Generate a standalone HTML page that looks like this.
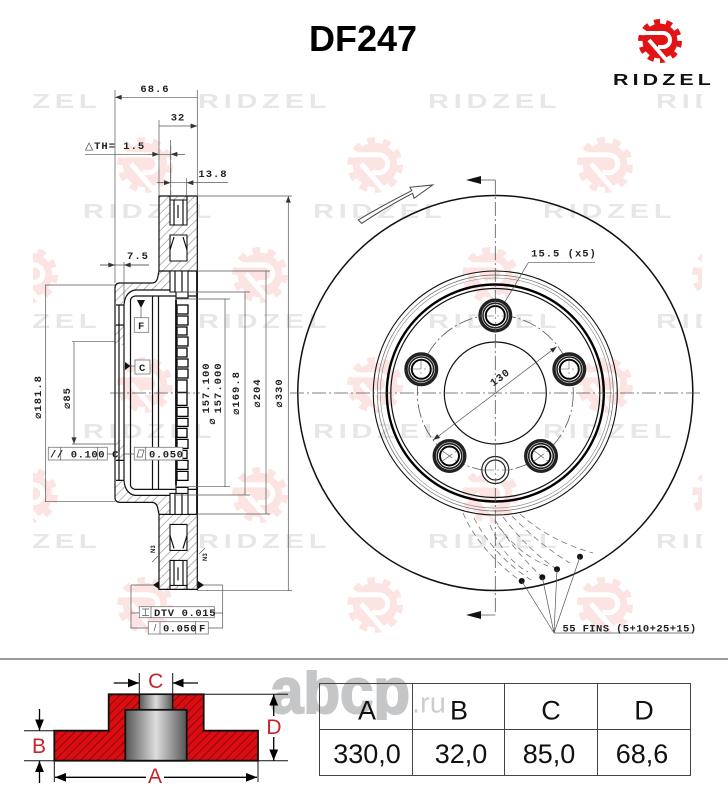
<!DOCTYPE html>
<html><head><meta charset="utf-8"><style>
html,body{margin:0;padding:0;background:#fff}
svg{display:block}
.d{font-family:"Liberation Mono","DejaVu Sans",monospace;font-weight:bold;font-size:10.5px;letter-spacing:1px;fill:#222}
.w{font-family:"Liberation Sans",sans-serif;font-weight:bold;font-size:20px;fill:#e7e7e7;letter-spacing:3.3px}
.t{font-family:"Liberation Sans",sans-serif;font-size:27px;fill:#111;text-anchor:middle}
.r{font-family:"Liberation Sans",sans-serif;font-size:21px;fill:#c8232c;text-anchor:middle}
.l{stroke:#555;stroke-width:.7;fill:none}
.k{stroke:#111;stroke-width:1.2;fill:none}
.kk{stroke:#111;stroke-width:1.8;fill:none}
.da{stroke:#555;stroke-width:.8;fill:none;stroke-dasharray:14 3 2 3}
.fin{stroke:#777;stroke-width:.8;fill:none;stroke-dasharray:6 4}
.b{fill:#fff;stroke:#777;stroke-width:.8}
</style></head><body>
<svg width="728" height="800" viewBox="0 0 728 800" xmlns="http://www.w3.org/2000/svg">
<defs>
<clipPath id="wm"><rect x="33" y="80" width="669" height="570"/></clipPath>
<clipPath id="ab"><rect x="260" y="670" width="200" height="50"/></clipPath>
<marker id="a" viewBox="0 0 8 6" refX="8" refY="3" markerWidth="7" markerHeight="5" markerUnits="userSpaceOnUse" orient="auto-start-reverse"><path d="M0 0L8 3L0 6Z" fill="#333"/></marker>
<marker id="ab2" viewBox="0 0 10 8" refX="10" refY="4" markerWidth="11" markerHeight="9" markerUnits="userSpaceOnUse" orient="auto-start-reverse"><path d="M0 0L10 4L0 8Z" fill="#000"/></marker>
<pattern id="h" width="6" height="6" patternUnits="userSpaceOnUse" patternTransform="rotate(-45)"><rect width="6" height="6" fill="#fff"/><rect width="6" height=".7" fill="#999"/></pattern>
<pattern id="rh" width="6" height="6" patternUnits="userSpaceOnUse" patternTransform="rotate(-45)"><rect width="6" height="6" fill="#dc0d12"/><rect width="6" height=".9" fill="#7c0a0a"/></pattern>
<linearGradient id="g1" x1="0" x2="1" y1="0" y2="0"><stop offset="0" stop-color="#555"/><stop offset=".5" stop-color="#ddd"/><stop offset="1" stop-color="#555"/></linearGradient>
<g id="gear">
<circle r="17.5" fill="currentColor"/>
<circle r="19.5" fill="none" stroke="currentColor" stroke-width="5" stroke-dasharray="6.1 6.15"/>
<path d="M-24 -8H3A7 7 0 0 1 3 6H-2M-11 -1L8 21" fill="none" stroke="#fff" stroke-width="4"/>
</g>
<g id="half">
<path class="k" d="M159 271V196H197.3V393M159 271L158 276Q157 283 152 283H120Q115 283 115 288V393M124 393V305Q125 292 135 290H175"/>
<path class="k" d="M116 305H124M116 325H124M119 393V305M130.5 393V300Q131 297 135 296H176M152.5 393V296M158.5 393V296M176 393V271M188 296H197M159 271H197"/>
<path d="M170 200h17v25h-17zM170 235h17v26h-17zM170 271h18v21h-18z" fill="#fff" stroke="#111" stroke-width="1.1"/>
<path class="k" d="M170 196V200M187 196V200M174 200V225M183 200V225M178 205V218M174 237L170 250M183 237L187 250M175 271V292M182 271V292M188 292V298L176 298"/>
<path d="M177 305h11v9h-11zM177 316h11v9h-11zM177 327h10v8h-10zM177 337h11v9h-11zM177 348h10v9h-10zM177 359h11v8h-11zM177 369h11v9h-11zM177 380h10v13h-10z" fill="#fff" stroke="#000" stroke-width="1.3"/>
<path class="kk" d="M197 271V393M176 300V393"/>
</g>
</defs>

<!-- watermarks -->
<g clip-path="url(#wm)">
<g style="color:#fbe4e1">
<use href="#gear" transform="translate(145,165) scale(1.27)"/><use href="#gear" transform="translate(375,165) scale(1.27)"/><use href="#gear" transform="translate(605,165) scale(1.27)"/>
<use href="#gear" transform="translate(30,275) scale(1.27)"/><use href="#gear" transform="translate(260,275) scale(1.27)"/><use href="#gear" transform="translate(490,275) scale(1.27)"/><use href="#gear" transform="translate(720,275) scale(1.27)"/>
<use href="#gear" transform="translate(145,385) scale(1.27)"/><use href="#gear" transform="translate(375,385) scale(1.27)"/><use href="#gear" transform="translate(605,385) scale(1.27)"/>
<use href="#gear" transform="translate(30,495) scale(1.27)"/><use href="#gear" transform="translate(260,495) scale(1.27)"/><use href="#gear" transform="translate(490,495) scale(1.27)"/><use href="#gear" transform="translate(720,495) scale(1.27)"/>
<use href="#gear" transform="translate(145,605) scale(1.27)"/><use href="#gear" transform="translate(375,605) scale(1.27)"/><use href="#gear" transform="translate(605,605) scale(1.27)"/>
</g>
<g class="w">
<text transform="translate(-32,108) scale(1.45,1)">RIDZEL</text><text transform="translate(198,108) scale(1.45,1)">RIDZEL</text><text transform="translate(428,108) scale(1.45,1)">RIDZEL</text><text transform="translate(656,108) scale(1.45,1)">RIDZEL</text>
<text transform="translate(83,218) scale(1.45,1)">RIDZEL</text><text transform="translate(313,218) scale(1.45,1)">RIDZEL</text><text transform="translate(543,218) scale(1.45,1)">RIDZEL</text>
<text transform="translate(-32,328) scale(1.45,1)">RIDZEL</text><text transform="translate(198,328) scale(1.45,1)">RIDZEL</text><text transform="translate(428,328) scale(1.45,1)">RIDZEL</text><text transform="translate(656,328) scale(1.45,1)">RIDZEL</text>
<text transform="translate(83,438) scale(1.45,1)">RIDZEL</text><text transform="translate(313,438) scale(1.45,1)">RIDZEL</text><text transform="translate(543,438) scale(1.45,1)">RIDZEL</text>
<text transform="translate(-32,548) scale(1.45,1)">RIDZEL</text><text transform="translate(198,548) scale(1.45,1)">RIDZEL</text><text transform="translate(428,548) scale(1.45,1)">RIDZEL</text><text transform="translate(656,548) scale(1.45,1)">RIDZEL</text>
</g>
</g>

<!-- header -->
<text x="363" y="51" text-anchor="middle" style="font-family:'Liberation Sans',sans-serif;font-weight:bold;font-size:36px" fill="#000">DF247</text>
<use href="#gear" transform="translate(660,41)" style="color:#e01414"/>
<text transform="translate(613,85) scale(1.38,1)" style="font-family:'Liberation Sans',sans-serif;font-weight:bold;font-size:15.5px;letter-spacing:3px" fill="#111">RIDZEL</text>

<!-- side view -->
<path d="M159 196H197V271H172L175 290H135Q125 292 124 305H115V288Q115 283 120 283H152Q157 283 158 276L159 271Z" fill="url(#h)"/>
<path d="M115 325H124V345H115Z" fill="url(#h)"/>
<path d="M159 589.4H197V514.4H172L175 495.4H135Q125 493.4 124 480.4H115V497.4Q115 502.4 120 502.4H152Q157 502.4 158 509.4L159 514.4Z" fill="url(#h)"/>
<path d="M115 440.4H124V460.4H115Z" fill="url(#h)"/>
<use href="#half"/>
<use href="#half" transform="translate(0,785.4) scale(1,-1)"/>
<path class="da" d="M110 393H200M170.7 146V196"/>
<!-- dims -->
<g class="l">
<path d="M115 90V283M197.3 90V196M159 120V196M170.7 140V196M186.7 178V196"/>
<path d="M115 97.3H197.3M159 126H197.3" marker-start="url(#a)" marker-end="url(#a)"/>
<path d="M85 154.3H185"/>
<path d="M148 154.3H159" marker-end="url(#a)"/><path d="M185 154.3H170.7" marker-end="url(#a)"/>
<path d="M157 182.7H228"/><path d="M157 182.7H170.7" marker-end="url(#a)"/><path d="M228 182.7H186.7" marker-end="url(#a)"/>
<path d="M100 265H149"/><path d="M100 265H115" marker-end="url(#a)"/><path d="M149 265H124" marker-end="url(#a)"/><path d="M124 262V300"/>
<path d="M197 196H292M197 590.7H292M197 271H270M197 514H270M176 292H250M176 495H250M176 299H230M176 486.7H230"/>
<path d="M288.3 196V590.7M266 271V514M245 291.7V495M225 299V486.7M45.7 285V501.7M74 341.7V444" marker-start="url(#a)" marker-end="url(#a)"/>
<path d="M45 285H115M45 501.7H115M72 341.7H115M72 444H115"/>
</g>
<g class="d">
<text x="155" y="92" text-anchor="middle">68.6</text>
<text x="178" y="120.5" text-anchor="middle">32</text>
<text x="85" y="149">△TH= 1.5</text>
<text x="213" y="177" text-anchor="middle">13.8</text>
<text x="138" y="259" text-anchor="middle">7.5</text>
<text transform="translate(282,393) rotate(-90)" text-anchor="middle">⌀330</text>
<text transform="translate(260,393) rotate(-90)" text-anchor="middle">⌀204</text>
<text transform="translate(239,393) rotate(-90)" text-anchor="middle">⌀169.8</text>
<text transform="translate(209,388) rotate(-90)" text-anchor="middle">157.100</text>
<text transform="translate(221,388) rotate(-90)" text-anchor="middle">157.000</text>
<text transform="translate(215,421) rotate(-90)" text-anchor="middle">⌀</text>
<text transform="translate(41,397) rotate(-90)" text-anchor="middle">⌀181.8</text>
<text transform="translate(70,398) rotate(-90)" text-anchor="middle">⌀85</text>
</g>
<g>
<path d="M137 300H145L141 308Z" fill="#111"/><path class="l" d="M141 308V318"/>
<rect class="b" x="134.3" y="317.7" width="14.4" height="14.6"/><text class="d" x="138" y="329">F</text>
<path d="M130.5 366L125 362V370Z" fill="#111"/><path class="l" d="M130 366H135"/>
<rect class="b" x="135" y="360" width="15" height="14"/><text class="d" x="139" y="371">C</text>
<rect class="b" x="48.3" y="447.3" width="59" height="12.7"/><path class="l" d="M60.7 447.3V460M97.7 447.3V460M107 454H115"/>
<text class="d" x="50" y="457.5" style="letter-spacing:.6px">// 0.100 C</text>
<rect class="b" x="134.3" y="447.3" width="48.4" height="12.7"/><path class="l" d="M145.7 447.3V460M124 454H134M137 457L139 450H144L142 457Z"/>
<text class="d" x="149" y="457.5" style="letter-spacing:.6px">0.050</text>
<path class="l" d="M131 585V628H148.3M222.7 585V628H208.3M131 585H156M222.7 585H201M131 613H139.3M214.3 613H222.7"/>
<path d="M153 585L159 581V589ZM204 585L198 581V589Z" fill="#111"/>
<rect class="b" x="139.3" y="606.7" width="75" height="11"/><path class="l" d="M151 606.7V617.7M142 609H149M142 615.5H149M145.5 609V615.5"/>
<text class="d" x="154" y="616" style="letter-spacing:.6px">DTV 0.015</text>
<rect class="b" x="148.3" y="621.7" width="60" height="12.3"/><path class="l" d="M160 621.7V634M195.7 621.7V634M154 631L156 624"/>
<text class="d" x="163" y="631.5" style="letter-spacing:.5px">0.050</text><text class="d" x="199" y="631.5">F</text>
<text transform="translate(155,553) rotate(-90)" style="font-family:'Liberation Sans',sans-serif;font-weight:bold;font-size:6px" fill="#222">N3</text>
<text transform="translate(207,561) rotate(-90)" style="font-family:'Liberation Sans',sans-serif;font-weight:bold;font-size:6px" fill="#222">N3</text>
<path class="l" d="M152 562L158 556M205 548L199 554"/>
</g>

<!-- front view -->
<circle cx="495.3" cy="393" r="197.5" fill="none" stroke="#111" stroke-width="1.5"/>
<circle cx="495.3" cy="393" r="122" fill="none" stroke="#111" stroke-width="1.1"/>
<circle cx="495.3" cy="393" r="118" fill="none" stroke="#666" stroke-width=".7"/>
<circle cx="495.3" cy="393" r="115" fill="none" stroke="#888" stroke-width=".6"/>
<circle cx="495.3" cy="393" r="108.5" fill="none" stroke="#000" stroke-width="2.4"/>
<circle cx="495.3" cy="393" r="104.5" fill="none" stroke="#111" stroke-width="1.2"/>
<circle cx="495.3" cy="393" r="51" fill="none" stroke="#111" stroke-width="1.2"/>
<circle cx="495.3" cy="393" r="78" class="da"/>
<path class="da" d="M495.3 180V615M290 393H702"/>
<path class="l" d="M495.3 180H478M495.3 615H478"/>
<path d="M466 180L481 176V184ZM466 615L481 611V619Z" fill="#111"/>
<path d="M358.3 220Q385 204 411.7 190.7L410 187.3L432.7 185L414 198.3L412.7 193.3Q388 206 361.7 223.3Z" fill="#fff" stroke="#444" stroke-width="1"/>
<g fill="#fff" stroke="#222">
<circle cx="495.3" cy="315.5" r="15.3" stroke-width="3.4"/><circle cx="495.3" cy="315.5" r="12.3" stroke-width="1.6"/><circle cx="495.3" cy="315.5" r="9.5" stroke="#000" stroke-width="1.9"/>
<circle cx="569.3" cy="369.3" r="15.3" stroke-width="3.4"/><circle cx="569.3" cy="369.3" r="12.3" stroke-width="1.6"/><circle cx="569.3" cy="369.3" r="9.5" stroke="#000" stroke-width="1.9"/>
<circle cx="421.3" cy="369.3" r="15.3" stroke-width="3.4"/><circle cx="421.3" cy="369.3" r="12.3" stroke-width="1.6"/><circle cx="421.3" cy="369.3" r="9.5" stroke="#000" stroke-width="1.9"/>
<circle cx="541" cy="456" r="15.3" stroke-width="3.4"/><circle cx="541" cy="456" r="12.3" stroke-width="1.6"/><circle cx="541" cy="456" r="9.5" stroke="#000" stroke-width="1.9"/>
<circle cx="449.5" cy="456" r="15.3" stroke-width="3.4"/><circle cx="449.5" cy="456" r="12.3" stroke-width="1.6"/><circle cx="449.5" cy="456" r="9.5" stroke="#000" stroke-width="1.9"/>
<circle cx="495.3" cy="470" r="13.5" stroke-width="1.2"/><circle cx="495.3" cy="470" r="10" stroke-width="1.2"/>
</g>
<path class="da" d="M495.3 300V332M480 316H510M555 369H584M569 355V384M407 369H436M421 355V384M441 450L458 462M533 462L549 450M441 462L458 450M533 450L549 462M480 470H510M495.3 456V484" style="stroke-width:.6"/>
<path class="l" d="M556.7 346.7L433.3 440" marker-start="url(#a)" marker-end="url(#a)"/>
<path class="l" d="M595 262.7H528.3L505 301.7"/>
<text class="d" x="564" y="256.7" text-anchor="middle">15.5 (x5)</text>
<text class="d" transform="translate(502,380) rotate(-37)" text-anchor="middle">130</text>
<path class="fin" d="M463 513Q480 552 522 582M474 518Q493 555 531 580M495 520Q515 552 542 577M503 517Q530 552 558 570M512 516Q540 545 570 563M520 514Q550 541 593 553M490 525Q505 560 528 572M498 526Q520 555 548 566"/>
<g fill="#111"><circle cx="521.7" cy="581" r="3"/><circle cx="542.3" cy="577.3" r="3"/><circle cx="557" cy="569.3" r="3"/><circle cx="580" cy="556.7" r="3"/></g>
<path class="l" d="M521.7 581L554 633M542.3 577.3L554 633M557 569.3L554 633M580 556.7L554 633M554 633H692"/>
<text class="d" x="562.5" y="631.5" style="letter-spacing:.4px">55 FINS (5+10+25+15)</text>

<!-- rule -->
<path d="M0 659H728" stroke="#333" stroke-width="1"/>

<!-- abcp -->
<g clip-path="url(#ab)">
<text x="270" y="713" textLength="140" lengthAdjust="spacingAndGlyphs" stroke="#c4c6c8" stroke-width="2" style="font-family:'Liberation Sans',sans-serif;font-weight:bold;font-size:64px" fill="#c4c6c8">abcp</text>
</g>
<text x="412" y="712.5" style="font-family:'Liberation Sans',sans-serif;font-size:29px" fill="#cbcdcf">.ru</text>

<!-- section diagram -->
<path d="M54.3 730.7H108.7V694.3H203.7V730.7H258V760.7H54.3Z" fill="url(#rh)" stroke="#111" stroke-width="1.8"/>
<rect x="139.3" y="694.3" width="33.4" height="15.5" fill="url(#g1)" stroke="#111" stroke-width="1.5"/>
<rect x="125.3" y="709.8" width="61.4" height="50.9" fill="url(#g1)" stroke="#111" stroke-width="1.8"/>
<g stroke="#111" stroke-width="1" fill="none">
<path d="M24 730.7H54M24 760.7H288M204 694.3H288M139.3 673V694M172.7 673V694M54.3 760V782M258 760V782"/>
</g>
<g stroke="#000" stroke-width="1.3" fill="none">
<path d="M113.7 683H139" marker-end="url(#ab2)"/><path d="M198 683H172.7" marker-end="url(#ab2)"/>
<path d="M39.5 709V730.5" marker-end="url(#ab2)"/><path d="M39.5 783V761" marker-end="url(#ab2)"/>
<path d="M273.7 716V694.5" marker-end="url(#ab2)"/><path d="M273.7 737V760.5" marker-end="url(#ab2)"/>
<path d="M148 777.3H55" marker-end="url(#ab2)"/><path d="M163 777.3H257" marker-end="url(#ab2)"/>
</g>
<rect x="146" y="768" width="18" height="16" fill="#fff"/>
<rect x="266" y="718" width="16" height="18" fill="#fff"/>
<text class="r" x="155.7" y="688">C</text>
<text class="r" x="39" y="753">B</text>
<text class="r" x="274" y="734">D</text>
<text class="r" x="155" y="783">A</text>

<!-- table -->
<g stroke="#444" stroke-width="1" fill="none">
<rect x="319.5" y="683.5" width="371" height="92"/>
<path d="M319.5 729.5H690.5M412.5 683.5V775.5M504.5 683.5V775.5M597.5 683.5V775.5"/>
</g>
<g class="t">
<text x="367" y="719.5">A</text><text x="459" y="719.5">B</text><text x="551" y="719.5">C</text><text x="644" y="719.5">D</text>
<text x="367" y="763">330,0</text><text x="461" y="763">32,0</text><text x="549" y="763">85,0</text><text x="642" y="763">68,6</text>
</g>
</svg>
</body></html>
